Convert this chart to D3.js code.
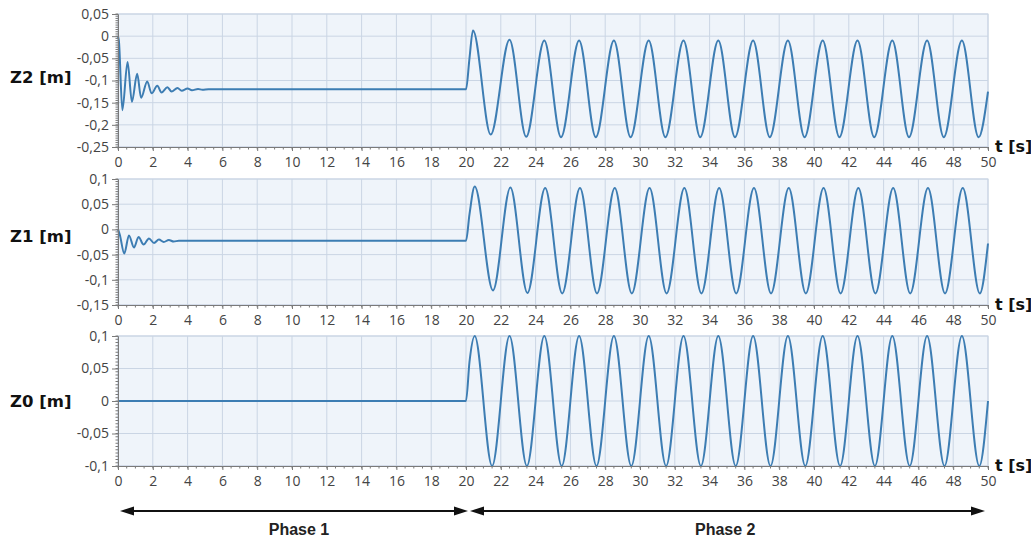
<!DOCTYPE html>
<html>
<head>
<meta charset="utf-8">
<script src="https://cdn.jsdelivr.net/npm/d3@7"></script>
<style>
  body { margin: 0; background: #fff; }
  svg text { font-family: "Open Sans", sans-serif; }
</style>
</head>
<body>
<svg id="chart" width="1031" height="539"></svg>
<script>
// ---- data: [t (s), z (m)] ----
const xTicks = [0, 2, 4, 6, 8, 10, 12, 14, 16, 18, 20, 22, 24, 26, 28, 30, 32, 34, 36, 38, 40, 42, 44, 46, 48, 50];
const z2Ticks = [0.05, 0, -0.05, -0.1, -0.15, -0.2, -0.25];
const z1Ticks = [0.1, 0.05, 0, -0.05, -0.1, -0.15];
const z0Ticks = [0.1, 0.05, 0, -0.05, -0.1];

const z2Data = [
  [0, 0], [0.05, -0.01], [0.25, -0.167], [0.55, -0.058], [0.8, -0.148], [1.1, -0.085],
  [1.33, -0.139], [1.68, -0.102], [1.93, -0.129], [2.26, -0.112], [2.5, -0.127],
  [2.84, -0.115], [3.08, -0.125], [3.42, -0.117], [3.66, -0.123], [4.0, -0.118],
  [4.25, -0.122], [4.6, -0.119], [4.85, -0.121], [5.2, -0.12], [20, -0.12],
  [20.2, -0.05], [20.4, 0.013], [21.42, -0.222], [22.5, -0.008], [23.46, -0.227],
  [24.5, -0.01], [25.46, -0.228], [26.5, -0.01], [27.46, -0.228], [28.5, -0.01],
  [29.46, -0.228], [30.5, -0.01], [31.46, -0.228], [32.5, -0.01], [33.46, -0.228],
  [34.5, -0.01], [35.46, -0.228], [36.5, -0.01], [37.46, -0.228], [38.5, -0.01],
  [39.46, -0.228], [40.5, -0.01], [41.46, -0.228], [42.5, -0.01], [43.46, -0.228],
  [44.5, -0.01], [45.46, -0.228], [46.5, -0.01], [47.46, -0.228], [48.5, -0.01],
  [49.46, -0.228], [50, -0.125]
];

const z1Data = [
  [0, 0], [0.1, -0.01], [0.36, -0.048], [0.63, -0.012], [0.92, -0.036], [1.18, -0.015],
  [1.47, -0.03], [1.78, -0.018], [2.07, -0.027], [2.35, -0.02], [2.63, -0.025],
  [2.92, -0.021], [3.2, -0.024], [3.5, -0.0225], [20, -0.0225], [20.2, 0.03],
  [20.5, 0.085], [21.55, -0.121], [22.55, 0.083], [23.53, -0.126], [24.55, 0.082],
  [25.53, -0.127], [26.55, 0.082], [27.53, -0.127], [28.55, 0.082], [29.53, -0.127],
  [30.55, 0.082], [31.53, -0.127], [32.55, 0.082], [33.53, -0.127], [34.55, 0.082],
  [35.53, -0.127], [36.55, 0.082], [37.53, -0.127], [38.55, 0.082], [39.53, -0.127],
  [40.55, 0.082], [41.53, -0.127], [42.55, 0.082], [43.53, -0.127], [44.55, 0.082],
  [45.53, -0.127], [46.55, 0.082], [47.53, -0.127], [48.55, 0.082], [49.53, -0.127],
  [50, -0.028]
];

const z0Data = [
  [0, 0], [20, 0], [20.2, 0.06], [20.5, 0.1], [21.5, -0.1], [22.5, 0.1], [23.5, -0.1],
  [24.5, 0.1], [25.5, -0.1], [26.5, 0.1], [27.5, -0.1], [28.5, 0.1], [29.5, -0.1],
  [30.5, 0.1], [31.5, -0.1], [32.5, 0.1], [33.5, -0.1], [34.5, 0.1], [35.5, -0.1],
  [36.5, 0.1], [37.5, -0.1], [38.5, 0.1], [39.5, -0.1], [40.5, 0.1], [41.5, -0.1],
  [42.5, 0.1], [43.5, -0.1], [44.5, 0.1], [45.5, -0.1], [46.5, 0.1], [47.5, -0.1],
  [48.5, 0.1], [49.5, -0.1], [50, 0]
];

const phases = [
  { label: "Phase 1", start: 0, end: 20, labelAt: 10.4 },
  { label: "Phase 2", start: 20, end: 50, labelAt: 34.9 }
];

// ---- layout ----
const svg = d3.select("#chart");
const x = d3.scaleLinear().domain([0, 50]).range([118, 988]);

const panels = [
  { name: "Z2 [m]", data: z2Data, ticks: z2Ticks, domain: [-0.25, 0.05], top: 14, bottom: 147, labelY: 83 },
  { name: "Z1 [m]", data: z1Data, ticks: z1Ticks, domain: [-0.15, 0.1], top: 179, bottom: 305, labelY: 242 },
  { name: "Z0 [m]", data: z0Data, ticks: z0Ticks, domain: [-0.1, 0.1], top: 336, bottom: 466, labelY: 407 }
];

// comma decimals, plain hyphen minus
const fmt = d3.formatLocale({ decimal: ",", thousands: ".", grouping: [3], currency: ["", ""], minus: "-" }).format("~g");

const lineColor = "#3d7db3";
const gridColor = "#cad5e4";
const axisColor = "#7a7a7a";

function drawPanel(p) {
  const y = d3.scaleLinear().domain(p.domain).range([p.bottom, p.top]);
  const g = svg.append("g");

  // plot background
  g.append("rect")
    .attr("x", x(0))
    .attr("y", p.top)
    .attr("width", x(50) - x(0))
    .attr("height", p.bottom - p.top)
    .attr("fill", "#eff4fa")
    .attr("stroke", gridColor);

  // grid
  g.selectAll(".vgrid")
    .data(xTicks)
    .enter()
    .append("line")
    .attr("x1", d => x(d)).attr("x2", d => x(d))
    .attr("y1", p.top).attr("y2", p.bottom)
    .attr("stroke", gridColor).attr("stroke-width", 1);
  g.selectAll(".hgrid")
    .data(p.ticks)
    .enter()
    .append("line")
    .attr("x1", x(0)).attr("x2", x(50))
    .attr("y1", d => y(d)).attr("y2", d => y(d))
    .attr("stroke", gridColor).attr("stroke-width", 1);

  // the curve
  g.append("path")
    .datum(p.data)
    .attr("fill", "none")
    .attr("stroke", lineColor)
    .attr("stroke-width", 2)
    .attr("stroke-linejoin", "round")
    .attr("d", d3.line()
      .x(d => x(d[0]))
      .y(d => y(d[1]))
      .curve(d3.curveMonotoneX));

  // minor ticks
  const minorX = d3.range(0, 50.01, 0.5);
  g.selectAll(".mx")
    .data(minorX)
    .enter()
    .append("line")
    .attr("x1", d => x(d)).attr("x2", d => x(d))
    .attr("y1", p.bottom).attr("y2", p.bottom + 2.5)
    .attr("stroke", axisColor);
  const minorY = d3.range(p.domain[0], p.domain[1] + 0.0001, 0.005);
  g.selectAll(".my")
    .data(minorY)
    .enter()
    .append("line")
    .attr("x1", x(0) - 2.5).attr("x2", x(0))
    .attr("y1", d => y(d)).attr("y2", d => y(d))
    .attr("stroke", axisColor);

  // axes
  const xa = g.append("g")
    .attr("transform", "translate(0," + p.bottom + ")")
    .call(d3.axisBottom(x).tickValues(xTicks).tickSize(4).tickPadding(6).tickFormat(d3.format("d")));
  const ya = g.append("g")
    .attr("transform", "translate(" + x(0) + ",0)")
    .call(d3.axisLeft(y).tickValues(p.ticks).tickSize(6).tickPadding(3).tickFormat(fmt));
  [xa, ya].forEach(a => {
    a.select(".domain").attr("stroke", axisColor);
    a.selectAll(".tick line").attr("stroke", axisColor);
    a.selectAll("text")
      .attr("fill", "#444")
      .style("font-size", "14px")
      .style("font-family", "'Open Sans', sans-serif");
  });

  // labels
  g.append("text")
    .attr("x", 10)
    .attr("y", p.labelY)
    .style("font-family", "'DejaVu Sans', sans-serif")
    .style("font-weight", "bold")
    .style("font-size", "16.5px")
    .attr("fill", "#111")
    .text(p.name);
  g.append("text")
    .attr("x", 995)
    .attr("y", p.bottom + 5)
    .style("font-family", "'DejaVu Sans', sans-serif")
    .style("font-weight", "bold")
    .style("font-size", "16px")
    .attr("fill", "#111")
    .text("t [s]");
}

panels.forEach(drawPanel);

// ---- phase arrows ----
const arrowY = 511;
const pg = svg.append("g");
phases.forEach(function (ph, i) {
  const x1 = x(ph.start) + (i === 0 ? 2 : 4);
  const x2 = x(ph.end) + (i === 0 ? 2 : -3);
  pg.append("line")
    .attr("x1", x1 + 6).attr("x2", x2 - 6)
    .attr("y1", arrowY).attr("y2", arrowY)
    .attr("stroke", "#111").attr("stroke-width", 2);
  // left head
  pg.append("path")
    .attr("d", "M" + x1 + "," + arrowY + "L" + (x1 + 14) + "," + (arrowY - 4.5) + "L" + (x1 + 14) + "," + (arrowY + 4.5) + "Z")
    .attr("fill", "#111");
  // right head
  pg.append("path")
    .attr("d", "M" + x2 + "," + arrowY + "L" + (x2 - 14) + "," + (arrowY - 4.5) + "L" + (x2 - 14) + "," + (arrowY + 4.5) + "Z")
    .attr("fill", "#111");
  pg.append("text")
    .attr("x", x(ph.labelAt))
    .attr("y", 535)
    .attr("text-anchor", "middle")
    .style("font-family", "'Liberation Sans', Arial, sans-serif")
    .style("font-weight", "bold")
    .style("font-size", "16px")
    .attr("fill", "#222")
    .text(ph.label);
});
</script>
</body>
</html>
